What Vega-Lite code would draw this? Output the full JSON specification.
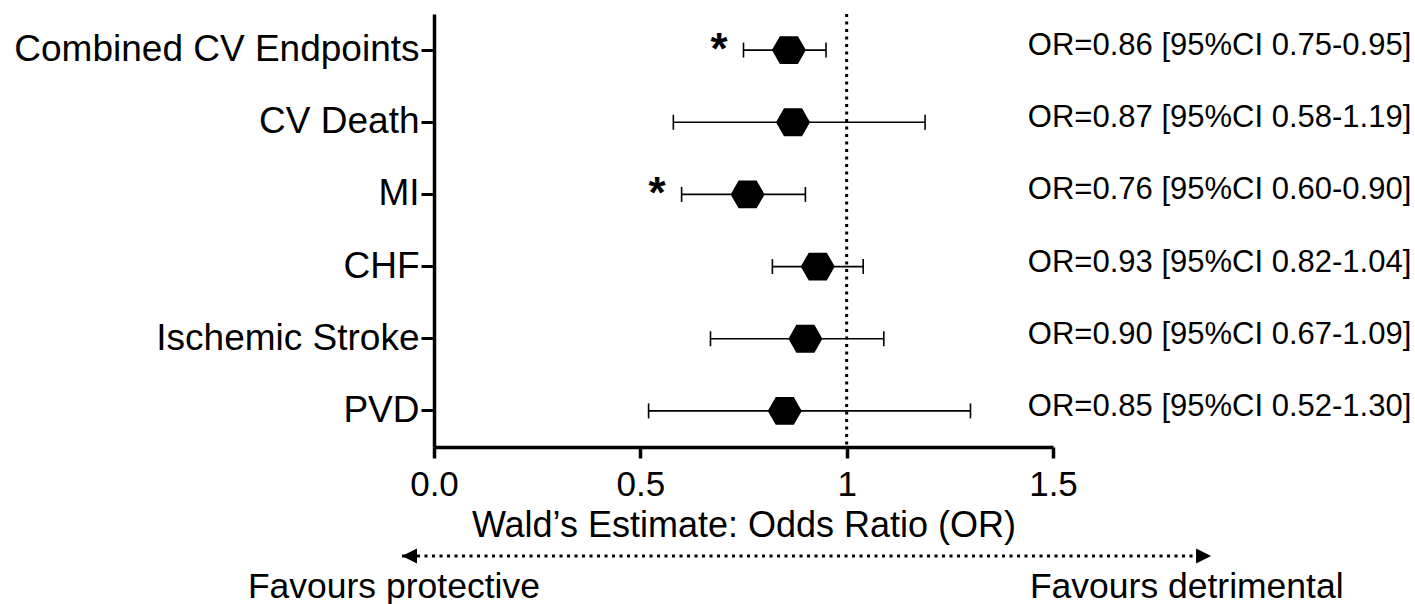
{
  "$schema": "https://vega.github.io/schema/vega-lite/v6.json",
  "padding": {"left": 13, "top": 12, "right": 0, "bottom": 0},
  "background": "white",
  "bounds": "flush",
  "spacing": 93,
  "resolve": {"scale": {"x": "independent", "y": "independent"}},
  "config": {
    "view": {"stroke": null},
    "font": "Liberation Sans",
    "axis": {"labelColor": "black", "tickColor": "black", "domainColor": "black", "titleColor": "black", "grid": false}
  },
  "datasets": {
    "rows": [
      {"outcome": "Combined CV Endpoints", "or": 0.86, "lower": 0.75, "upper": 0.95, "sig": true, "label": "OR=0.86 [95%CI 0.75-0.95]"},
      {"outcome": "CV Death", "or": 0.87, "lower": 0.58, "upper": 1.19, "sig": false, "label": "OR=0.87 [95%CI 0.58-1.19]"},
      {"outcome": "MI", "or": 0.76, "lower": 0.60, "upper": 0.90, "sig": true, "label": "OR=0.76 [95%CI 0.60-0.90]"},
      {"outcome": "CHF", "or": 0.93, "lower": 0.82, "upper": 1.04, "sig": false, "label": "OR=0.93 [95%CI 0.82-1.04]"},
      {"outcome": "Ischemic Stroke", "or": 0.90, "lower": 0.67, "upper": 1.09, "sig": false, "label": "OR=0.90 [95%CI 0.67-1.09]"},
      {"outcome": "PVD", "or": 0.85, "lower": 0.52, "upper": 1.30, "sig": false, "label": "OR=0.85 [95%CI 0.52-1.30]"}
    ],
    "reference": [{"ref": 1}],
    "notes": [
      {"kind": "arrow", "lane": "arrow", "x": -0.0775, "x2": 1.883},
      {"kind": "text", "lane": "text", "x": -0.451, "label": "Favours protective"},
      {"kind": "text", "lane": "text", "x": 1.444, "label": "Favours detrimental"}
    ]
  },
  "vconcat": [
    {
      "width": 619,
      "height": 433,
      "layer": [
        {
          "data": {"name": "reference"},
          "mark": {"type": "rule", "strokeDash": [3, 4.5], "strokeWidth": 3, "color": "black"},
          "encoding": {"x": {"field": "ref", "type": "quantitative"}}
        },
        {
          "data": {"name": "rows"},
          "mark": {"type": "rule", "strokeWidth": 1.6, "color": "black"},
          "encoding": {
            "x": {
              "field": "lower", "type": "quantitative",
              "scale": {"domain": [0, 1.5], "nice": false, "zero": false},
              "axis": {
                "title": "Wald’s Estimate: Odds Ratio (OR)",
                "values": [0, 0.5, 1, 1.5],
                "labelExpr": "datum.value == 1 ? '1' : format(datum.value, '.1f')",
                "labelFontSize": 35, "labelPadding": 9, "labelFlush": false, "labelOverlap": false,
                "tickSize": 11, "tickWidth": 3.5, "domainWidth": 3.5,
                "titleFontSize": 36, "titleFontWeight": "normal", "titlePadding": 6
              }
            },
            "x2": {"field": "upper"},
            "y": {
              "field": "outcome", "type": "nominal", "sort": null,
              "axis": {
                "title": null, "labelFontSize": 37, "labelPadding": 2, "labelLimit": 1000,
                "tickSize": 13, "tickWidth": 3, "domainWidth": 3.5
              }
            }
          }
        },
        {
          "data": {"name": "rows"},
          "mark": {"type": "tick", "thickness": 1.6, "size": 15, "color": "black", "opacity": 1},
          "encoding": {
            "x": {"field": "lower", "type": "quantitative"},
            "y": {"field": "outcome", "type": "nominal", "sort": null}
          }
        },
        {
          "data": {"name": "rows"},
          "mark": {"type": "tick", "thickness": 1.6, "size": 15, "color": "black", "opacity": 1},
          "encoding": {
            "x": {"field": "upper", "type": "quantitative"},
            "y": {"field": "outcome", "type": "nominal", "sort": null}
          }
        },
        {
          "data": {"name": "rows"},
          "mark": {"type": "point", "shape": "M-1,0L-0.53,-0.82L0.53,-0.82L1,0L0.53,0.82L-0.53,0.82Z", "size": 1156, "filled": true, "color": "black", "opacity": 1},
          "encoding": {
            "x": {"field": "or", "type": "quantitative"},
            "y": {"field": "outcome", "type": "nominal", "sort": null}
          }
        },
        {
          "data": {"name": "rows"},
          "transform": [{"filter": "datum.sig"}],
          "mark": {"type": "text", "text": "*", "fontSize": 44, "fontWeight": "bold", "align": "right", "baseline": "middle", "dx": -16, "dy": 1, "color": "black"},
          "encoding": {
            "x": {"field": "lower", "type": "quantitative"},
            "y": {"field": "outcome", "type": "nominal", "sort": null}
          }
        },
        {
          "data": {"name": "rows"},
          "mark": {"type": "text", "fontSize": 31, "align": "left", "baseline": "middle", "dy": -4, "color": "black"},
          "encoding": {
            "x": {"datum": 1.439, "type": "quantitative"},
            "y": {"field": "outcome", "type": "nominal", "sort": null},
            "text": {"field": "label", "type": "nominal"}
          }
        }
      ]
    },
    {
      "width": 619,
      "height": 64,
      "data": {"name": "notes"},
      "layer": [
        {
          "transform": [{"filter": "datum.kind == 'arrow'"}],
          "mark": {"type": "rule", "strokeDash": [3, 4.5], "strokeWidth": 3, "color": "black"},
          "encoding": {
            "x": {"field": "x", "type": "quantitative", "scale": {"domain": [0, 1.5], "nice": false, "zero": false}, "axis": null},
            "x2": {"field": "x2"},
            "y": {"field": "lane", "type": "nominal", "axis": null, "scale": {"domain": ["arrow", "text"]}}
          }
        },
        {
          "transform": [{"filter": "datum.kind == 'arrow'"}],
          "mark": {"type": "point", "shape": "M0,0L2,-1L2,1Z", "size": 225, "filled": true, "color": "black", "opacity": 1},
          "encoding": {
            "x": {"field": "x", "type": "quantitative"},
            "y": {"field": "lane", "type": "nominal"}
          }
        },
        {
          "transform": [{"filter": "datum.kind == 'arrow'"}],
          "mark": {"type": "point", "shape": "M0,0L-2,-1L-2,1Z", "size": 225, "filled": true, "color": "black", "opacity": 1},
          "encoding": {
            "x": {"field": "x2", "type": "quantitative"},
            "y": {"field": "lane", "type": "nominal"}
          }
        },
        {
          "transform": [{"filter": "datum.kind == 'text'"}],
          "mark": {"type": "text", "fontSize": 35.5, "align": "left", "baseline": "middle", "dy": -1, "color": "black"},
          "encoding": {
            "x": {"field": "x", "type": "quantitative"},
            "y": {"field": "lane", "type": "nominal"},
            "text": {"field": "label", "type": "nominal"}
          }
        }
      ]
    }
  ]
}
